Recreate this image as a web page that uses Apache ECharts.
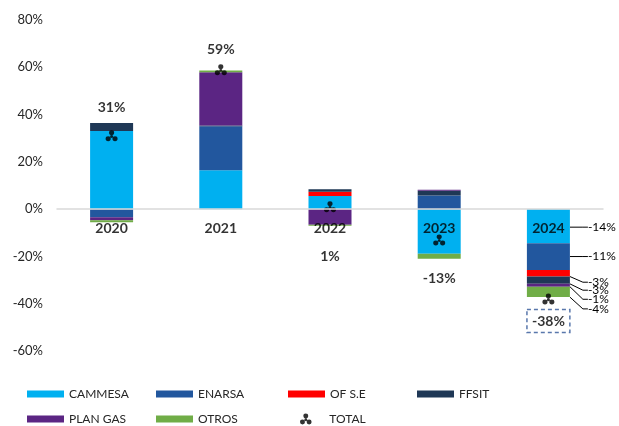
<!DOCTYPE html>
<html>
<head>
<meta charset="utf-8">
<script src="https://cdn.jsdelivr.net/npm/echarts@6/dist/echarts.min.js"></script>
<style>html,body{margin:0;padding:0;background:#fff}#c{width:619px;height:426px}</style>
</head>
<body>
<div id="c"></div>
<script>
const years = ['2020', '2021', '2022', '2023', '2024'];
const cammesa = [33.0, 16.5, 5.6, -18.9, -14.4];
const enarsa = [-3.4, 18.6, 0, 5.8, -11.3];
const ofse = [0, 0, 1.8, 0, -2.8];
const ffsit = [3.4, 0.3, 1.0, 2.0, -3.1];
const planGas = [-1.3, 22.5, -6.6, 0.4, -1.2];
const otros = [-0.8, 0.7, -0.4, -2.1, -4.4];
const total = [31, 59, 1, -13, -38];
const yTicks = [-60, -40, -20, 0, 20, 40, 60, 80];

const FONT = 'Lato, "Open Sans", sans-serif';
const markerPath = 'path://M3.6,3a2.4,2.4 0 1,0 4.8,0a2.4,2.4 0 1,0 -4.8,0Z M0.4,8.8a2.4,2.4 0 1,0 4.8,0a2.4,2.4 0 1,0 -4.8,0Z M6.8,8.8a2.4,2.4 0 1,0 4.8,0a2.4,2.4 0 1,0 -4.8,0Z M4.6,6.6a1.4,1.4 0 1,0 2.8,0a1.4,1.4 0 1,0 -2.8,0Z';

const barDefs = [
  {name: 'CAMMESA', data: cammesa, color: '#00B0F0', dy: 1},
  {name: 'ENARSA', data: enarsa, color: '#22579E', dy: 0},
  {name: 'OF S.E', data: ofse, color: '#FF0000', dy: 9},
  {name: 'FFSIT', data: ffsit, color: '#1F3856', dy: 10},
  {name: 'PLAN GAS', data: planGas, color: '#5B2583', dy: 14},
  {name: 'OTROS', data: otros, color: '#70AD47', dy: 17}
];
const lastIdx = years.length - 1;

const series = barDefs.map(d => ({
  name: d.name,
  type: 'bar',
  stack: 'all',
  barWidth: 43,
  itemStyle: {color: d.color},
  data: d.data.map((v, i) => i === lastIdx ? {
    value: v,
    label: {show: true},
    labelLine: {show: true}
  } : v),
  label: {
    show: false,
    position: 'right',
    distance: 18,
    color: '#000',
    fontFamily: FONT,
    fontSize: 12,
    formatter: p => Math.round(p.value) + '%'
  },
  labelLine: {show: false, length2: 5, minTurnAngle: 20, lineStyle: {color: '#000', width: 1}},
  labelLayout: p => p.dataIndex === lastIdx ? {dy: d.dy} : {}
}));

// category labels anchored on the zero line
series.push({
  name: 'cat',
  type: 'scatter',
  symbol: 'circle',
  symbolSize: 1,
  itemStyle: {color: 'rgba(0,0,0,0)'},
  z: 8,
  silent: true,
  data: years.map(() => 0),
  label: {
    show: true,
    position: 'inside',
    offset: [0, 19],
    color: '#000',
    fontFamily: FONT,
    fontWeight: 'bold',
    fontSize: 14,
    formatter: p => years[p.dataIndex]
  }
});

const totalOffsets = [-28, -20, 50, 39, 22];
series.push({
  name: 'TOTAL',
  type: 'scatter',
  symbol: markerPath,
  symbolSize: [12, 11],
  itemStyle: {color: '#000'},
  z: 9,
  data: total.map((v, i) => ({
    value: v,
    label: i === lastIdx ? {
      offset: [0, totalOffsets[i]],
      borderType: [4, 3],
      borderColor: '#2F5597',
      borderWidth: 1.5,
      padding: [5, 5, 4, 5]
    } : {offset: [0, totalOffsets[i]]}
  })),
  label: {
    show: true,
    position: 'inside',
    color: '#000',
    fontFamily: FONT,
    fontWeight: 'bold',
    fontSize: 14,
    formatter: p => p.value + '%'
  }
});

const legendCols = [27, 156, 288, 417];
const legendNames = ['CAMMESA', 'ENARSA', 'OF S.E', 'FFSIT', 'PLAN GAS', 'OTROS', 'TOTAL'];
const legends = legendNames.map((n, i) => ({
  data: [n],
  left: n === 'TOTAL' ? 300 : legendCols[i % 4],
  top: i < 4 ? 388 : 413,
  padding: 0,
  itemWidth: 37,
  itemHeight: n === 'TOTAL' ? 11 : 7,
  itemGap: 5,
  icon: n === 'TOTAL' ? markerPath : 'rect',
  selectedMode: false,
  textStyle: {fontFamily: FONT, fontSize: 12, color: '#262626'}
}));

const chart = echarts.init(document.getElementById('c'), null, {renderer: 'canvas'});
chart.setOption({
  animation: false,
  backgroundColor: '#fff',
  grid: {left: 57, right: 16, top: 20, bottom: 75, containLabel: false, outerBoundsMode: 'none'},
  legend: legends,
  xAxis: {
    type: 'category',
    data: years,
    z: 10,
    axisLine: {onZero: true, lineStyle: {color: '#D9D9D9', width: 1.5}},
    axisTick: {show: false},
    axisLabel: {show: false}
  },
  yAxis: {
    type: 'value',
    min: yTicks[0],
    max: yTicks[yTicks.length - 1],
    interval: 20,
    axisLine: {show: false},
    axisTick: {show: false},
    splitLine: {show: false},
    axisLabel: {color: '#262626', fontFamily: FONT, fontSize: 13, margin: 14, formatter: '{value}%'}
  },
  series: series
});
</script>
</body>
</html>
